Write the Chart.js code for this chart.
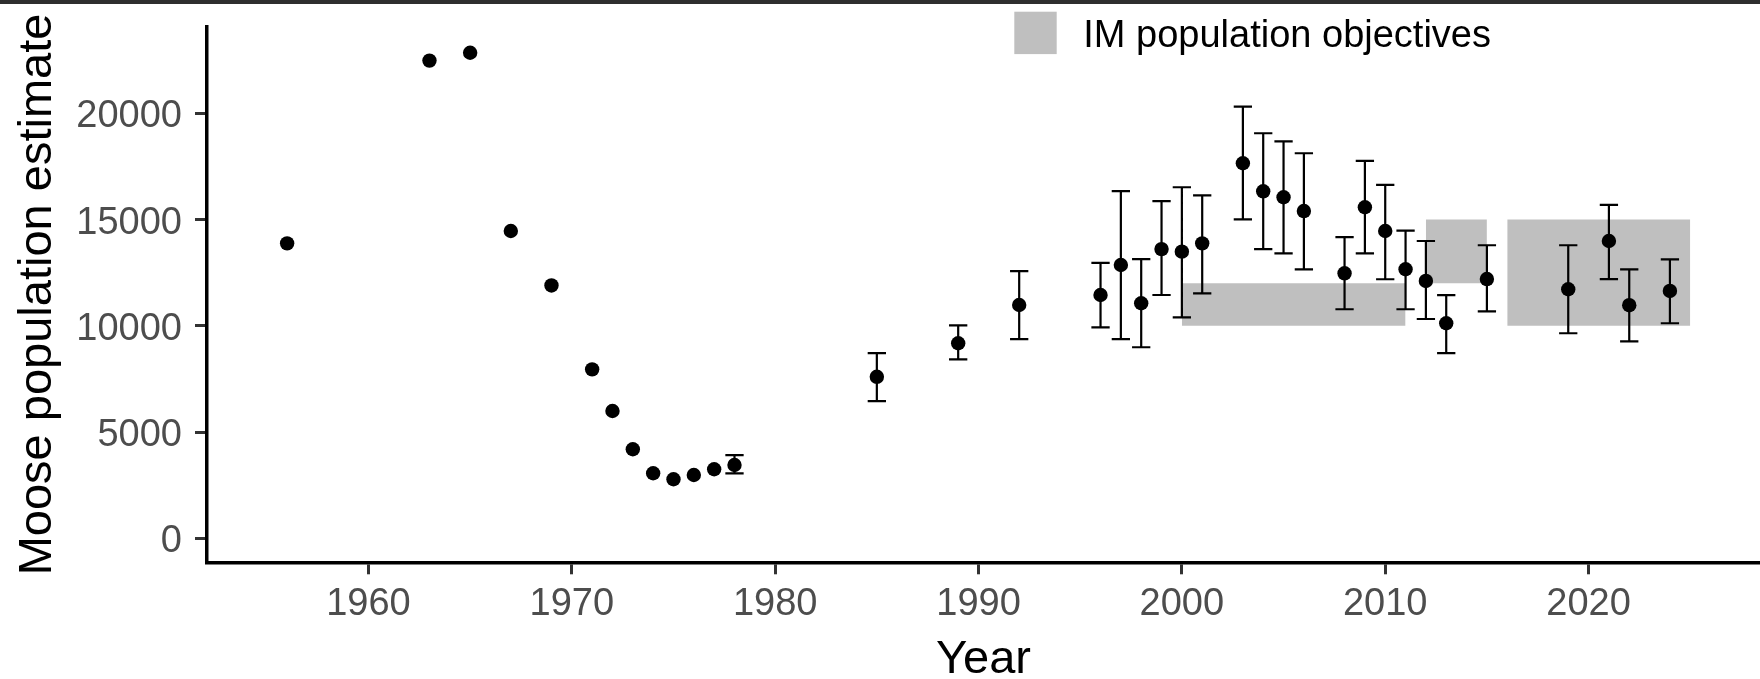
<!DOCTYPE html>
<html>
<head>
<meta charset="utf-8">
<title>Moose population estimate</title>
<script src="https://cdn.jsdelivr.net/npm/chart.js@4.4.1/dist/chart.umd.min.js"></script>
<style>
  html, body { margin: 0; padding: 0; background: #fff; }
  #wrap { position: relative; width: 1760px; height: 679px; }
  #topbar { position: absolute; left: 0; top: 0; width: 1760px; height: 4px; background: #2e2e2e; }
</style>
</head>
<body>
<div id="wrap">
  <canvas id="mooseChart" width="1760" height="679"></canvas>
  <div id="topbar"></div>
</div>
<script>
// survey years, point estimates and confidence limits (null = no CI)
const years = [1956, 1963, 1965, 1967, 1969, 1971, 1972, 1973, 1974, 1975, 1976, 1977,
  1978, 1985, 1989, 1992, 1996, 1997, 1998, 1999, 2000, 2001, 2003, 2004, 2005, 2006,
  2008, 2009, 2010, 2011, 2012, 2013, 2015, 2019, 2021, 2022, 2024];
const estimates = [13880, 22480, 22850, 14460, 11900, 7950, 5990, 4190, 3060, 2780, 2980, 3250,
  3450, 7600, 9180, 10980, 11450, 12860, 11060, 13610, 13490, 13880, 17650, 16330, 16050, 15400,
  12470, 15580, 14460, 12660, 12110, 10120, 12200, 11720, 13990, 10970, 11640];
const lower = [null, null, null, null, null, null, null, null, null, null, null, null,
  3060, 6460, 8420, 9370, 9930, 9370, 8990, 11450, 10400, 11530, 15010, 13610, 13410, 12660,
  10780, 13410, 12190, 10780, 10320, 8710, 10680, 9650, 12200, 9270, 10120];
const upper = [null, null, null, null, null, null, null, null, null, null, null, null,
  3910, 8710, 10020, 12570, 12960, 16340, 13140, 15870, 16520, 16140, 20310, 19060, 18680, 18120,
  14170, 17760, 16630, 14480, 13990, 11440, 13790, 13790, 15690, 12660, 13130];

// IM population objective ranges
const objStart = [2000, 2012, 2016];
const objEnd = [2011, 2015, 2025];
const objLow = [10000, 12000, 10000];
const objHigh = [12000, 15000, 15000];

const xTicks = [1960, 1970, 1980, 1990, 2000, 2010, 2020];
const yTicks = [0, 5000, 10000, 15000, 20000];

const fontFamily = '"Liberation Sans", Arial, sans-serif';
Chart.defaults.font.family = fontFamily;

// error bars as one broken line: stem, top cap, bottom cap
const capHalf = 0.45;
const errorPoints = [];
years.forEach((yr, i) => {
  if (lower[i] == null) return;
  errorPoints.push({x: yr, y: lower[i]}, {x: yr, y: upper[i]}, {x: yr, y: null});
  errorPoints.push({x: yr - capHalf, y: upper[i]}, {x: yr + capHalf, y: upper[i]}, {x: yr, y: null});
  errorPoints.push({x: yr - capHalf, y: lower[i]}, {x: yr + capHalf, y: lower[i]}, {x: yr, y: null});
});

const objectiveSets = objStart.map((x0, i) => ({
  type: 'line',
  label: i === 0 ? 'IM population objectives' : '',
  legendEntry: i === 0,
  data: [{x: x0, y: objHigh[i]}, {x: objEnd[i], y: objHigh[i]}],
  fill: {value: objLow[i]},
  backgroundColor: '#bfbfbf',
  borderWidth: 0,
  pointRadius: 0,
  order: 3
}));

// legend drawn inside the top of the plot, like the original
const objectiveLegend = {
  id: 'objectiveLegend',
  afterDraw(chart, args, opts) {
    const ds = chart.data.datasets.find(d => d.legendEntry);
    const ctx = chart.ctx;
    ctx.save();
    ctx.fillStyle = ds.backgroundColor;
    ctx.fillRect(opts.x, opts.y, opts.size, opts.size);
    ctx.fillStyle = '#000';
    ctx.font = '38px ' + fontFamily;
    ctx.textBaseline = 'middle';
    ctx.textAlign = 'left';
    ctx.fillText(ds.label, opts.textX, opts.textY);
    ctx.restore();
  }
};

function noEdgePadding(s) {
  s.paddingTop = 0; s.paddingBottom = 0; s.paddingLeft = 0; s.paddingRight = 0;
}

new Chart(document.getElementById('mooseChart'), {
  type: 'line',
  data: {
    datasets: [
      {
        label: 'Estimate',
        data: years.map((yr, i) => ({x: yr, y: estimates[i]})),
        showLine: false,
        pointRadius: 7.2,
        pointBackgroundColor: '#000',
        pointBorderWidth: 0,
        order: 1
      },
      {
        label: 'CI',
        data: errorPoints,
        borderColor: '#000',
        borderWidth: 2.2,
        pointRadius: 0,
        spanGaps: false,
        tension: 0,
        fill: false,
        order: 2
      },
      ...objectiveSets
    ]
  },
  options: {
    responsive: false,
    animation: false,
    events: [],
    layout: { autoPadding: false, padding: {top: 26.7, right: 0, bottom: 0, left: 0} },
    plugins: {
      legend: { display: false },
      tooltip: { enabled: false },
      objectiveLegend: { x: 1014.3, y: 11.7, size: 42.4, textX: 1083.3, textY: 36.5 }
    },
    scales: {
      x: {
        type: 'linear',
        min: 1952.06,
        max: 2028.43,
        afterBuildTicks: s => { s.ticks = xTicks.map(v => ({value: v})); },
        afterFit: s => { s.height = 116.7; noEdgePadding(s); },
        grid: { display: true, drawOnChartArea: false, drawTicks: true, tickLength: 12, lineWidth: 3, color: '#333333' },
        border: { display: true, color: '#000', width: 3.5 },
        ticks: { font: {size: 38}, color: '#4d4d4d', padding: 7, maxRotation: 0, autoSkip: false, callback: v => String(v) },
        title: { display: true, text: 'Year', color: '#000', font: {size: 47, lineHeight: 1}, padding: {top: 0, bottom: -4.5} }
      },
      y: {
        type: 'linear',
        min: -1129,
        max: 24075,
        afterBuildTicks: s => { s.ticks = yTicks.map(v => ({value: v})); },
        afterFit: s => { s.width = 207; noEdgePadding(s); },
        grid: { display: true, drawOnChartArea: false, drawTicks: true, tickLength: 12, lineWidth: 3, color: '#333333' },
        border: { display: true, color: '#000', width: 3.5 },
        ticks: { font: {size: 38}, color: '#4d4d4d', padding: 13, labelOffset: 3.5, autoSkip: false, callback: v => String(v) },
        title: { display: true, text: 'Moose population estimate', color: '#000', font: {size: 47, lineHeight: 1}, padding: {top: 14.7, bottom: 0} }
      }
    }
  },
  plugins: [objectiveLegend]
});
</script>
</body>
</html>
